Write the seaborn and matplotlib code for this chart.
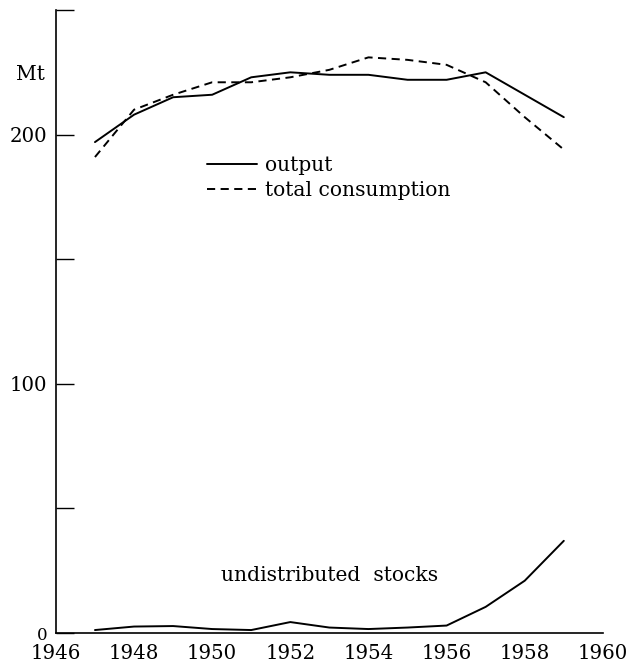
import pandas as pd
import matplotlib.pyplot as plt
import seaborn as sns

# values (Mt)
years = [1947, 1948, 1949, 1950, 1951, 1952, 1953, 1954, 1955, 1956, 1957, 1958, 1959]
output = [197, 208, 215, 216, 223, 225, 224, 224, 222, 222, 225, 216, 207]
consumption = [191, 210, 216, 221, 221, 223, 226, 231, 230, 228, 221, 207, 194]
stocks = [1.2, 2.6, 2.8, 1.6, 1.2, 4.4, 2.2, 1.6, 2.2, 3.0, 10.5, 21, 37]

x_ticks = [1946, 1948, 1950, 1952, 1954, 1956, 1958, 1960]
y_ticks = [0, 50, 100, 150, 200, 250]
y_labels = ['0', '', '100', '', '200', '']

df = pd.DataFrame({'year': years, 'output': output,
                   'consumption': consumption, 'stocks': stocks})

sns.set_theme(style="white")
plt.rcParams['font.family'] = ['DejaVu Serif']
plt.rcParams['text.color'] = 'black'

fig = plt.figure(figsize=(6.28, 6.63), dpi=100)
ax = fig.add_axes([0.089, 0.0452, 0.871, 0.9397])

sns.lineplot(data=df, x='year', y='output', ax=ax, color='black', lw=1.4, label='output')
sns.lineplot(data=df, x='year', y='consumption', ax=ax, color='black', lw=1.4,
             linestyle=(0, (4.2, 2.8)), label='total consumption')
sns.lineplot(data=df, x='year', y='stocks', ax=ax, color='black', lw=1.4)

ax.set_xlim(1946, 1960)
ax.set_ylim(0, 250)
ax.set_xticks(x_ticks)
ax.set_yticks(y_ticks)
ax.set_yticklabels(y_labels)
ax.set_xlabel('')
ax.set_ylabel('')

for side in ['top', 'right']:
    ax.spines[side].set_visible(False)
for side in ['left', 'bottom']:
    ax.spines[side].set_color('black')
    ax.spines[side].set_linewidth(1.2)

ax.tick_params(axis='y', direction='in', length=13, width=1.0, color='black',
               pad=6, labelsize=14.2, labelcolor='black', left=True)
ax.tick_params(axis='x', length=0, pad=8, labelsize=14.2, labelcolor='black')
# the zero label is set a little smaller in the original
ax.get_yticklabels()[0].set_fontsize(12)

ax.text(-0.047, 0.897, 'Mt', transform=ax.transAxes, fontsize=14.6,
        ha='center', va='center')
ax.text(0.301, 0.092, 'undistributed  stocks', transform=ax.transAxes, fontsize=14.6,
        ha='left', va='center')

ax.legend(loc='upper left', bbox_to_anchor=(0.276, 0.766), frameon=False, fontsize=14.6,
          handlelength=2.46, handletextpad=0.4, labelspacing=0.3, borderpad=0,
          borderaxespad=0)

plt.savefig('out.png', dpi=100)
